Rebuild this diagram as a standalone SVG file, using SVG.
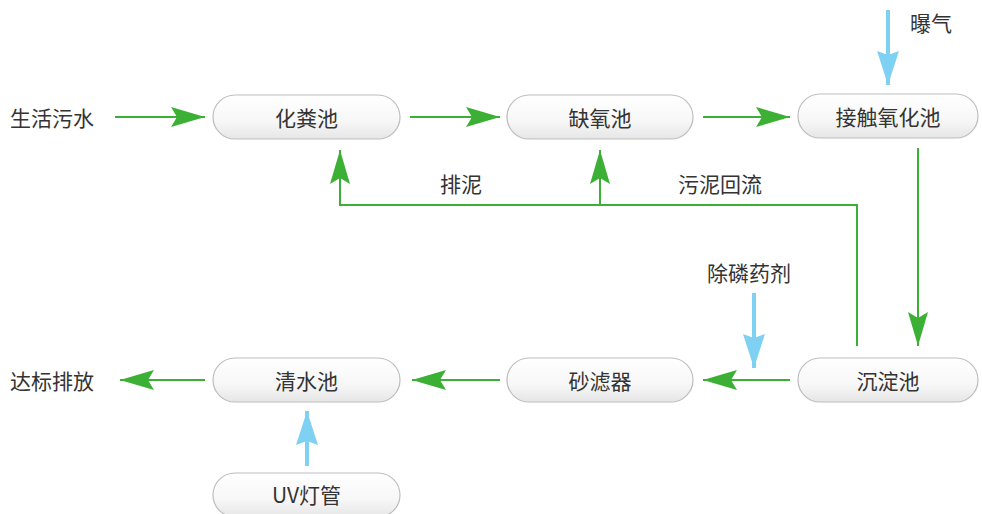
<svg xmlns="http://www.w3.org/2000/svg" width="982" height="514" viewBox="0 0 982 514">
<defs>
<linearGradient id="pg" x1="0" y1="0" x2="0" y2="1">
<stop offset="0" stop-color="#ffffff"/>
<stop offset="0.6" stop-color="#f7f7f7"/>
<stop offset="1" stop-color="#e6e6e6"/>
</linearGradient>
<marker id="ag" markerUnits="userSpaceOnUse" markerWidth="36" markerHeight="22" refX="34" refY="11" orient="auto">
<path d="M0,1 L34,11 L0,21 L6,11 z" fill="#3cb034"/>
</marker>
<marker id="ab" markerUnits="userSpaceOnUse" markerWidth="36" markerHeight="24" refX="34" refY="12" orient="auto">
<path d="M0,1 L34,12 L0,23 L4,12 z" fill="#7fd1f3"/>
</marker>
<style>
.pill{fill:url(#pg);stroke:#bdbdbd;stroke-width:1.2}
.t{font-family:"Noto Sans CJK SC","Liberation Sans",sans-serif;font-size:21px;fill:#333;text-anchor:middle;dominant-baseline:central}
.tl{font-family:"Noto Sans CJK SC","Liberation Sans",sans-serif;font-size:21px;fill:#333;dominant-baseline:central}
.g{stroke:#3cb034;stroke-width:2;fill:none}
.b{stroke:#7fd1f3;stroke-width:4;fill:none}
</style>
</defs>
<rect width="982" height="514" fill="#ffffff"/>
<g id="connectors">
<line class="g" x1="115" y1="117" x2="205" y2="117" marker-end="url(#ag)"/>
<line class="g" x1="410" y1="117" x2="500" y2="117" marker-end="url(#ag)"/>
<line class="g" x1="703" y1="117" x2="790" y2="117" marker-end="url(#ag)"/>
<line class="g" x1="918" y1="148" x2="918" y2="346" marker-end="url(#ag)"/>
<line class="g" x1="790" y1="380" x2="703" y2="380" marker-end="url(#ag)"/>
<line class="g" x1="500" y1="380" x2="412" y2="380" marker-end="url(#ag)"/>
<line class="g" x1="205" y1="380" x2="120" y2="380" marker-end="url(#ag)"/>
<polyline class="g" points="857,346 857,205 340,205 340,150" marker-end="url(#ag)"/>
<line class="g" x1="600" y1="205" x2="600" y2="150" marker-end="url(#ag)"/>
<line class="b" x1="888" y1="10" x2="888" y2="85" marker-end="url(#ab)"/>
<line class="b" x1="754" y1="293" x2="754" y2="368" marker-end="url(#ab)"/>
<line class="b" x1="307" y1="466" x2="307" y2="411" marker-end="url(#ab)"/>
</g>
<g id="label-in"><text class="tl" x="10" y="117">生活污水</text></g>
<g id="label-out"><text class="tl" x="10" y="380">达标排放</text></g>
<g id="label-aer"><text class="tl" x="910" y="22">曝气</text></g>
<g id="label-sludge"><text class="tl" x="440" y="183">排泥</text></g>
<g id="label-return"><text class="tl" x="678" y="183">污泥回流</text></g>
<g id="label-chem"><text class="tl" x="707" y="272">除磷药剂</text></g>
<g id="n-septic"><rect class="pill" x="213" y="95" width="187" height="44" rx="22"/><text class="t" x="306.5" y="117">化粪池</text></g>
<g id="n-anoxic"><rect class="pill" x="507" y="95" width="186" height="44" rx="22"/><text class="t" x="600" y="117">缺氧池</text></g>
<g id="n-contact"><rect class="pill" x="798" y="94" width="180" height="44" rx="22"/><text class="t" x="888" y="116">接触氧化池</text></g>
<g id="n-settle"><rect class="pill" x="798" y="358" width="180" height="44" rx="22"/><text class="t" x="888" y="380">沉淀池</text></g>
<g id="n-sand"><rect class="pill" x="507" y="358" width="186" height="44" rx="22"/><text class="t" x="600" y="380">砂滤器</text></g>
<g id="n-clear"><rect class="pill" x="213" y="358" width="187" height="44" rx="22"/><text class="t" x="306.5" y="380">清水池</text></g>
<g id="n-uv"><rect class="pill" x="213" y="473" width="187" height="44" rx="22"/><text class="t" x="306.5" y="494">UV灯管</text></g>
</svg>
